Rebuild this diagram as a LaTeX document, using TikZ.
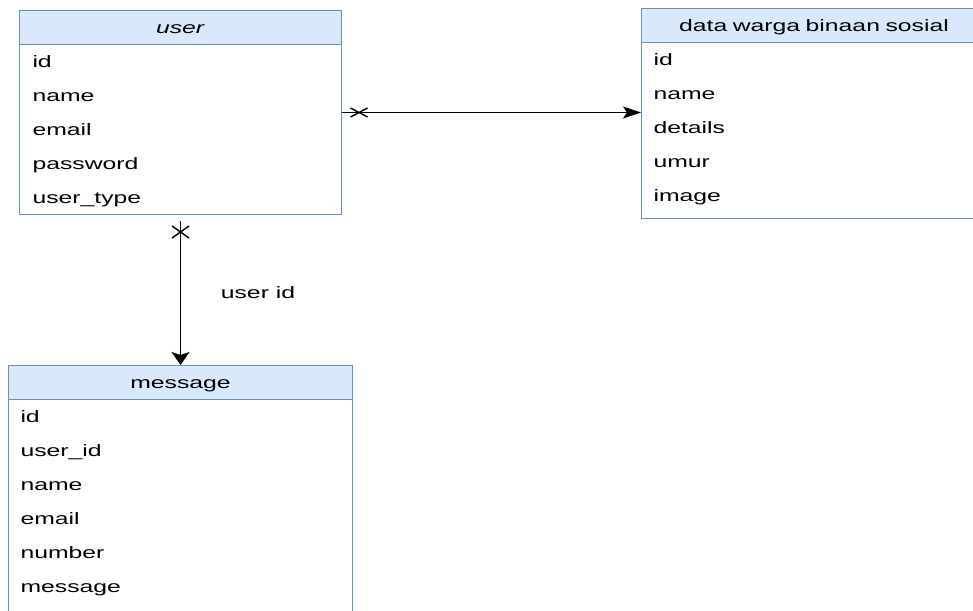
\documentclass[tikz,border=0pt]{standalone}
\usepackage{fontspec}
\setmainfont{Liberation Sans}[FakeStretch=1.5]
\usetikzlibrary{shapes.multipart,arrows.meta,positioning}
\definecolor{myheadblue}{RGB}{218,232,252}
\definecolor{myborderblue}{RGB}{108,142,191}
\newcommand\mystrut{\rule[-4pt]{0pt}{20pt}}

\begin{document}
\begin{tikzpicture}[
  x=1pt, y=-1pt,
  font=\fontsize{16.5}{20}\selectfont,
  mytable/.style={
    draw=myborderblue,
    line width=1pt,
    rectangle split,
    rectangle split parts=#1,
    rectangle split draw splits=false,
    rectangle split part fill={myheadblue, white},
    anchor=north west,
    align=left,
    inner ysep=6.5pt,
    inner xsep=12pt
    },
  myhead/.style={draw=myborderblue, line width=1pt},
  myrel/.style={line width=1.5pt},
  mycross/.style={line width=1.4pt}
]
\clip (0,0) rectangle (973,610);

\node[mytable=6, inner xsep=13pt, text width=296pt]
  (user) at (19,10)
  {
  					\makebox[\hsize]{\mystrut\textit{user}}
  \nodepart{two}	\mystrut id
  \nodepart{three}	\mystrut name
  \nodepart{four}	\mystrut email
  \nodepart{five}	\mystrut password
  \nodepart{six}	\mystrut user\_type
  };
\draw[myhead] (user.one split west) -- (user.one split east);

\node[mytable=6, text width=321pt]
  (data) at (641,8)
  {
  					\makebox[\hsize]{\mystrut data warga binaan sosial}
  \nodepart{two}	\mystrut id
  \nodepart{three}	\mystrut name
  \nodepart{four}	\mystrut details
  \nodepart{five}	\mystrut umur
  \nodepart{six}	\mystrut image\rule[-10pt]{0pt}{10pt}
  };
\draw[myhead] (data.one split west) -- (data.one split east);

\node[mytable=7, text width=320pt]
  (msg) at (8,365)
  {
  					\makebox[\hsize]{\mystrut message}
  \nodepart{two}	\mystrut id
  \nodepart{three}	\mystrut user\_id
  \nodepart{four}	\mystrut name
  \nodepart{five}	\mystrut email
  \nodepart{six}	\mystrut number
  \nodepart{seven}	\mystrut message\rule[-30pt]{0pt}{30pt}
  };
\draw[myhead] (msg.one split west) -- (msg.one split east);

% user -> data warga
\draw[myrel, -{Stealth[length=18pt,width=12pt,inset=4pt]}] (user.east) -- (user.east -| data.west);
\coordinate (crossa) at ([xshift=17pt]user.east);
\draw[mycross] (crossa) ++(-8.5,-4.5) -- ++(17,9) (crossa) ++(-8.5,4.5) -- ++(17,-9);

% user -> message
\draw[myrel, -{Stealth[length=13pt,width=18pt,inset=3pt]}] ([yshift=-6pt]user.south) -- (msg.north);
\coordinate (crossb) at ([yshift=-17pt]user.south);
\draw[mycross] (crossb) ++(-8.5,-6) -- ++(17,12) (crossb) ++(-8.5,6) -- ++(17,-12);
\node (userid) at (258,293) {user id};

\end{tikzpicture}
\end{document}
